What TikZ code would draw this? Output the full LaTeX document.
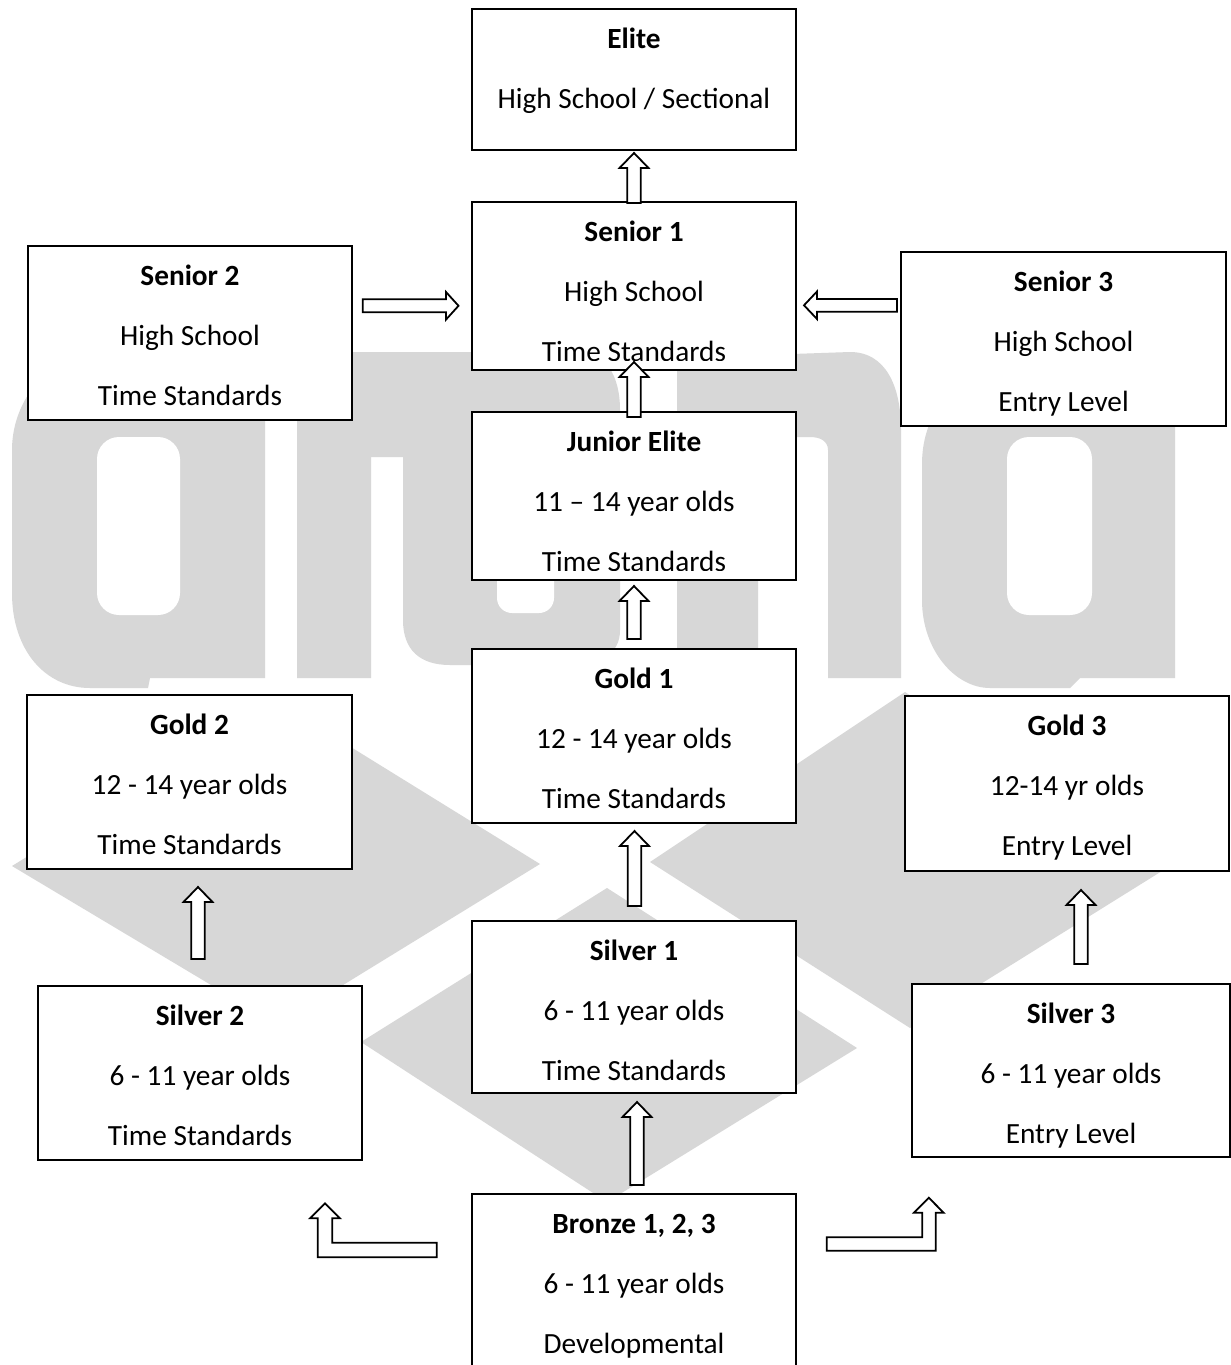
\documentclass[tikz,border=0pt]{standalone}
\usepackage{fontspec}
\setmainfont{Carlito}
\usetikzlibrary{calc}
\definecolor{wm}{RGB}{215,215,215}
\tikzset{
  box/.style={draw=black, fill=white, line width=1.8pt, rectangle, inner sep=0pt},
  lbl/.style={align=center, inner sep=0pt, anchor=north, font=\fontsize{29.3}{59.7}\selectfont},
  blockarr/.style={draw=black, fill=white, line width=1.8pt, line join=miter},
}
% box: name, x1, y1, x2, y2
\newcommand\boxnode[5]{%
  \node[box, minimum width={#4-#2}, minimum height={#5-#3}] (#1) at ({(#2+#4)/2},{(#3+#5)/2}) {};}
\newcommand\boxtext[2]{%
  \node[lbl] (#1-t) at ($(#1.north)+(0,17.5)$) {\rule{0pt}{23pt}#2};}
\newcommand\blockup[3]{%
  \draw[blockarr] (#1,#2) -- ({#1+14.5},{#2+15}) -- ({#1+6.8},{#2+15}) -- ({#1+6.8},#3)
    -- ({#1-6.8},#3) -- ({#1-6.8},{#2+15}) -- ({#1-14.5},{#2+15}) -- cycle;}
\begin{document}
\begin{tikzpicture}[x=1pt,y=-1pt]
\useasboundingbox[fill=white] (0,0) rectangle (1231,1365);

% ---------- watermark ----------
% left "a"
\fill[wm] (265,330) -- (265,678) -- (150,678) -- (148,688) -- (90,688)
  .. controls (45,688) and (12,650) .. (12,593) -- (12,450)
  .. controls (12,420) and (25,395) .. (40,380) -- (140,330) -- cycle;
\fill[white, rounded corners=22pt] (97,437) rectangle (180,615);
% second letter
\fill[wm] (297,678) -- (297,400) .. controls (297,370) and (320,352) .. (360,352)
  -- (580,352) .. controls (605,352) and (620,375) .. (620,410) -- (620,630)
  .. controls (620,655) and (600,665) .. (560,665) -- (450,665)
  .. controls (420,665) and (403,650) .. (403,620) -- (403,457) -- (371,457) -- (371,678) -- cycle;
\fill[white, rounded corners=15pt] (497,445) rectangle (554,613);
% "n"
\fill[wm] (677,678) -- (677,358) -- (850,352) .. controls (885,352) and (901,385) .. (901,430)
  -- (901,678) -- (828,678) -- (828,450) .. controls (828,441) and (820,437) .. (810,437)
  -- (772,437) .. controls (763,437) and (758,445) .. (758,455) -- (758,678) -- cycle;
% right "a"
\fill[wm] (1175,678) -- (1175,400) -- (940,400) .. controls (928,425) and (922,440) .. (922,465)
  -- (922,600) .. controls (922,650) and (955,688) .. (990,688) -- (1070,688) -- (1080,678) -- cycle;
\fill[white, rounded corners=22pt] (1007,437) rectangle (1092,615);
% diamonds
\fill[wm] (12,866) -- (278,702) -- (540,864) -- (278,1025) -- cycle;
\fill[wm] (361,1042) -- (607,888) -- (857,1048) -- (607,1202) -- cycle;
\fill[wm] (650,862) -- (905,692) -- (1170,866) -- (910,1028) -- cycle;

% ---------- boxes ----------
\boxnode{elite}{472}{9}{796}{150}
\boxnode{senior1}{472}{202}{796}{370}
\boxnode{junior}{472}{412}{796}{580}
\boxnode{gold1}{472}{649}{796}{823}
\boxnode{silver1}{472}{921}{796}{1093}
\boxnode{bronze}{472}{1194}{796}{1372}
\boxnode{senior2}{28}{246}{352}{420}
\boxnode{senior3}{901}{252}{1226}{426}
\boxnode{gold2}{27}{695}{352}{869}
\boxnode{silver2}{38}{986}{362}{1160}
\boxnode{gold3}{905}{696}{1229}{871}
\boxnode{silver3}{912}{984}{1230}{1157}

\boxtext{elite}{\textbf{Elite}\\High School / Sectional}
\begin{scope}
  \clip (472,202) rectangle (796,360);
  \boxtext{senior1}{\textbf{Senior 1}\\High School\\Time Standards}
\end{scope}
\begin{scope}
  \clip (472,412) rectangle (796,570);
  \boxtext{junior}{\textbf{Junior Elite}\\11 – 14 year olds\\Time Standards}
\end{scope}
\boxtext{gold1}{\textbf{Gold 1}\\12 - 14 year olds\\Time Standards}
\boxtext{silver1}{\textbf{Silver 1}\\6 - 11 year olds\\Time Standards}
\boxtext{bronze}{\textbf{Bronze 1, 2, 3}\\6 - 11 year olds\\Developmental}
\boxtext{senior2}{\textbf{Senior 2}\\High School\\Time Standards}
\boxtext{senior3}{\textbf{Senior 3}\\High School\\Entry Level}
\boxtext{gold2}{\textbf{Gold 2}\\12 - 14 year olds\\Time Standards}
\boxtext{silver2}{\textbf{Silver 2}\\6 - 11 year olds\\Time Standards}
\boxtext{gold3}{\textbf{Gold 3}\\12-14 yr olds\\Entry Level}
\boxtext{silver3}{\textbf{Silver 3}\\6 - 11 year olds\\Entry Level}

% ---------- block arrows ----------
\blockup{634}{153}{203}
\blockup{634}{362}{417}
\blockup{634}{586}{639}
\blockup{634.5}{831}{906}
\blockup{637}{1102}{1185}
\blockup{198}{887}{959}
\blockup{1081}{890}{964}
% Senior 2 -> Senior 1
\draw[blockarr] (362.7,299.3) -- (446,299.3) -- (446,292) -- (458.5,305.8) -- (446,319.6)
  -- (446,312.3) -- (362.7,312.3) -- cycle;
% Senior 3 -> Senior 1
\draw[blockarr] (897,299) -- (817,299) -- (817,291.5) -- (804,305.3) -- (817,319)
  -- (817,311.7) -- (897,311.7) -- cycle;
% Bronze -> Silver 2 (bent)
\draw[blockarr] (317.7,1257.3) -- (436.7,1257.3) -- (436.7,1242.7) -- (332.3,1242.7)
  -- (332.3,1218.3) -- (340,1218.3) -- (325,1203.3) -- (310,1218.3) -- (317.7,1218.3) -- cycle;
% Bronze -> Silver 3 (bent)
\draw[blockarr] (826.7,1237.3) -- (922.3,1237.3) -- (922.3,1212.7) -- (914,1212.7)
  -- (928.8,1197.7) -- (943.6,1212.7) -- (935.7,1212.7) -- (935.7,1250.7) -- (826.7,1250.7) -- cycle;
\end{tikzpicture}
\end{document}
